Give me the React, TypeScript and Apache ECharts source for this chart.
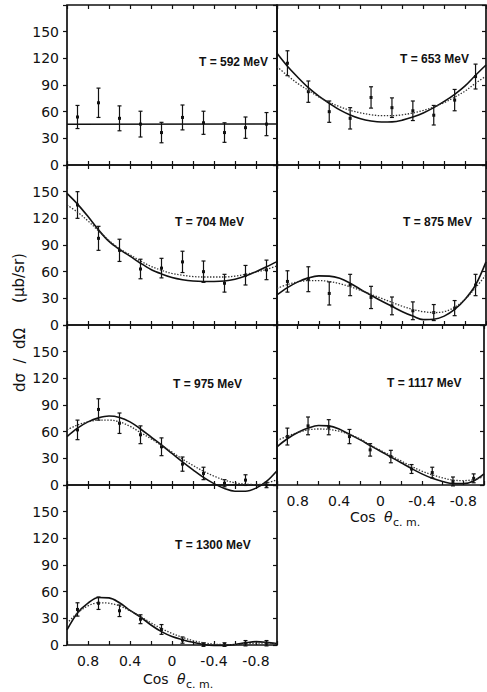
import React, { useEffect, useRef } from "react";
import * as echarts from "echarts";

// ---------- data ----------
const COS_POINTS = [0.9, 0.7, 0.5, 0.3, 0.1, -0.1, -0.3, -0.5, -0.7, -0.9];
const COS_CURVE = [1, 0.9, 0.8, 0.7, 0.6, 0.5, 0.4, 0.3, 0.2, 0.1, 0, -0.1, -0.2, -0.3, -0.4, -0.5, -0.6, -0.7, -0.8, -0.9, -1];
const COS_FLAT = [1, -1];

const X_TICK_VALUES = [0.8, 0.4, 0, -0.4, -0.8];
const X_TICK_LABELS = ["0.8", "0.4", "0", "-0.4", "-0.8"];
const Y_TICK_LABELS = ["0", "30", "60", "90", "120", "150"];

const TITLES = ["T = 592 MeV", "T = 653 MeV", "T = 704 MeV", "T = 875 MeV", "T = 975 MeV", "T = 1117 MeV", "T = 1300 MeV"];

// T = 592 MeV
const Y_592 = [54, 70, 52.5, 46, 36.5, 53.5, 47.5, 36.5, 42, 46];
const ERR_592 = [13, 16.5, 14, 14.5, 11.5, 14, 13, 11, 12, 13];
const SOLID_592 = [45.8, 46.2];

// T = 653 MeV
const Y_653 = [114.5, 82.5, 60, 52.5, 76, 64.5, 61, 56, 73, 99.5];
const ERR_653 = [14, 12, 12, 12, 12, 11, 11, 11, 12, 14];
const SOLID_653 = [125.6, 111, 98.5, 87, 77.5, 69.5, 62, 56.3, 52, 49.5, 48.3, 48.5, 50.5, 54, 58.5, 64.5, 71.5, 79.5, 89, 101, 112.5];
const DOTTED_653 = [110.6, 100.6, 91.6, 84, 76.6, 70.6, 65.6, 61.5, 58.6, 56.5, 55.5, 55.5, 56.5, 58.5, 61.4, 65.3, 70.2, 76.3, 83.2, 92, 100];

// T = 704 MeV
const Y_704 = [135, 97.5, 84, 63, 64, 71, 60, 47, 56, 62];
const ERR_704 = [15, 13.5, 12.5, 11, 11, 12, 12, 10, 11, 11];
const SOLID_704 = [148, 136, 122, 107, 94, 85, 77.5, 69.5, 62.5, 57.5, 53.5, 51, 49.5, 49, 49, 49.5, 51.5, 55, 60, 65.5, 71.3];
const DOTTED_704 = [135, 127, 117, 106, 95, 86, 79, 72, 66, 61.5, 58, 56, 54.5, 54, 54, 54, 55, 57, 59.5, 62.5, 66.4];

// T = 875 MeV
const Y_875 = [49, 51.5, 35.5, 45, 31, 21.5, 16, 14, 19, 45];
const ERR_875 = [12, 14, 13, 12, 12.5, 10, 10, 9, 8.5, 12];
const SOLID_875 = [33.8, 42, 48.5, 53, 55.3, 55, 52.5, 47, 40, 33.5, 27, 21, 15, 10, 6, 6.5, 10, 17.5, 29, 45, 71];
const DOTTED_875 = [41.3, 45.5, 48.5, 50, 50, 49, 46.5, 43, 39, 34.5, 30, 25.5, 21, 17.5, 15, 14, 15, 20, 29, 42, 56.3];

// T = 975 MeV
const Y_975 = [62, 85, 69.5, 56.5, 43, 23.5, 13, 2, 5.5, 0];
const ERR_975 = [11, 12, 11.5, 10, 10, 8, 7, 4, 6, 3];
const SOLID_975 = [54.4, 64, 71, 75.5, 77.6, 76, 71, 63, 54, 45, 35.5, 26, 17, 8.5, 1.5, -4, -7, -7, -3.5, 4, 16];
const DOTTED_975 = [62, 67.5, 71, 73, 73, 71, 66, 59, 52, 44.5, 37, 29, 22, 15.5, 10, 5.5, 2.5, 1, 0.5, 2, 6];

// T = 1117 MeV
const Y_1117 = [54.5, 66.5, 65, 54.5, 39.5, 32, 18, 14, 4, 7.5];
const ERR_1117 = [9.5, 10, 8.5, 8, 7, 7, 5, 6, 5, 5];
const SOLID_1117 = [43, 52, 59, 64, 67, 66.5, 63, 57, 51, 44.5, 38, 31.5, 25, 18.5, 12.5, 7.5, 4, 1.5, 1.5, 4.5, 12.4];
const DOTTED_1117 = [50, 55, 59, 62, 63, 62.5, 60.5, 57, 52, 45, 39, 33, 27, 21, 15.5, 11.5, 8, 5.5, 5, 6, 9.4];

// T = 1300 MeV
const Y_1300 = [40, 47, 38.5, 29, 17.5, 5.5, 0.5, 0.5, 2, 2];
const ERR_1300 = [7.5, 7, 6.5, 5, 5.5, 3.5, 2, 2, 3, 3];
const SOLID_1300 = [17, 36, 47, 53.5, 53, 47.5, 39, 31.5, 22.5, 15, 9.5, 6, 3, 0.5, -0.5, -0.5, 0.5, 2.5, 3.8, 3, 1.5];
const DOTTED_1300 = [24.4, 36, 44, 47.5, 47, 44, 38.5, 32, 25, 18.5, 13, 8.5, 5, 2.5, 1, 0.5, 0.5, 1, 2, 2, 1.5];

const PANELS = [
  { title: TITLES[0], y: Y_592, err: ERR_592, solidX: COS_FLAT, solid: SOLID_592, dotted: null },
  { title: TITLES[1], y: Y_653, err: ERR_653, solidX: COS_CURVE, solid: SOLID_653, dotted: DOTTED_653 },
  { title: TITLES[2], y: Y_704, err: ERR_704, solidX: COS_CURVE, solid: SOLID_704, dotted: DOTTED_704 },
  { title: TITLES[3], y: Y_875, err: ERR_875, solidX: COS_CURVE, solid: SOLID_875, dotted: DOTTED_875 },
  { title: TITLES[4], y: Y_975, err: ERR_975, solidX: COS_CURVE, solid: SOLID_975, dotted: DOTTED_975 },
  { title: TITLES[5], y: Y_1117, err: ERR_1117, solidX: COS_CURVE, solid: SOLID_1117, dotted: DOTTED_1117 },
  { title: TITLES[6], y: Y_1300, err: ERR_1300, solidX: COS_CURVE, solid: SOLID_1300, dotted: DOTTED_1300 },
];

// ---------- layout ----------
const LAYOUT = [
  { row: 0, col: 0, tx: 199, ty: 62, xLabels: false },
  { row: 0, col: 1, tx: 400, ty: 59, xLabels: false },
  { row: 1, col: 0, tx: 175, ty: 222, xLabels: false },
  { row: 1, col: 1, tx: 403, ty: 222, xLabels: false },
  { row: 2, col: 0, tx: 173, ty: 384, xLabels: false },
  { row: 2, col: 1, tx: 387, ty: 383, xLabels: true },
  { row: 3, col: 0, tx: 175, ty: 545, xLabels: true },
];

const INK = "#111";
const FONT = "DejaVu Sans";

function xFormatter(v: number) {
  const r = Math.round(v * 10) / 10;
  const k = X_TICK_VALUES.findIndex((t) => Math.abs(t - r) < 1e-6);
  return k >= 0 ? X_TICK_LABELS[k] : "";
}

function yFormatter(v: number) {
  const s = String(Math.round(v));
  return Y_TICK_LABELS.includes(s) ? s : "";
}

function errorBarRender(params: any, api: any) {
  const x = api.value(0);
  const y = api.value(1);
  const lo = api.value(2);
  const hi = api.value(3);
  const c = api.coord([x, y]);
  const a = api.coord([x, lo]);
  const b = api.coord([x, hi]);
  const st = { stroke: INK, lineWidth: 1.2 };
  return {
    type: "group",
    children: [
      { type: "line", shape: { x1: c[0], y1: a[1], x2: c[0], y2: b[1] }, style: st },
      { type: "line", shape: { x1: c[0] - 2, y1: a[1], x2: c[0] + 2, y2: a[1] }, style: st },
      { type: "line", shape: { x1: c[0] - 2, y1: b[1], x2: c[0] + 2, y2: b[1] }, style: st },
      { type: "rect", shape: { x: c[0] - 1.5, y: c[1] - 1.5, width: 3, height: 3 }, style: { fill: INK } },
    ],
  };
}

function buildOption() {
  const grids: any[] = [];
  const xAxes: any[] = [];
  const yAxes: any[] = [];
  const series: any[] = [];
  const graphics: any[] = [];

  PANELS.forEach((p, i) => {
    const L = LAYOUT[i];
    const left = L.col === 0 ? 67 : 277;
    const width = L.col === 0 ? 210 : 209;
    const top = 5 + L.row * 160;
    grids.push({ left, top, width, height: 160, show: true, borderColor: INK, borderWidth: 1.7, backgroundColor: "transparent" });

    const tickStyle = { color: INK, width: 1.2 };
    const xBase = {
      gridIndex: i, type: "value", min: -1, max: 1, interval: 0.2, inverse: true,
      axisLine: { show: false, onZero: false }, splitLine: { show: false },
      axisTick: { show: true, inside: true, length: 4, lineStyle: tickStyle },
    };
    xAxes.push({
      ...xBase, position: "bottom",
      axisLabel: { show: L.xLabels, formatter: xFormatter, margin: 9, fontSize: 14, color: INK, fontFamily: FONT },
    });
    xAxes.push({ ...xBase, position: "top", axisLabel: { show: false } });

    const yBase = {
      gridIndex: i, type: "value", min: 0, max: 180, interval: 30,
      axisLine: { show: false, onZero: false }, splitLine: { show: false },
    };
    yAxes.push({
      ...yBase, position: "left",
      axisTick: { show: L.col === 0, inside: false, length: 4, lineStyle: tickStyle },
      axisLabel: { show: L.col === 0, formatter: yFormatter, margin: 8, fontSize: 14, color: INK, fontFamily: FONT },
    });
    yAxes.push({
      ...yBase, position: "right",
      axisTick: { show: true, inside: true, length: 4, lineStyle: tickStyle },
      axisLabel: { show: false },
    });

    series.push({
      type: "custom", xAxisIndex: 2 * i, yAxisIndex: 2 * i, clip: false,
      renderItem: errorBarRender, encode: { x: 0, y: 1 },
      data: p.y.map((v, k) => [COS_POINTS[k], v, v - p.err[k], v + p.err[k]]),
      z: 3,
    });
    series.push({
      type: "line", xAxisIndex: 2 * i, yAxisIndex: 2 * i, clip: false,
      showSymbol: false, smooth: 0.35,
      lineStyle: { color: INK, width: 1.6, type: "solid" },
      data: p.solid.map((v, k) => [p.solidX[k], v]),
      z: 4,
    });
    if (p.dotted) {
      series.push({
        type: "line", xAxisIndex: 2 * i, yAxisIndex: 2 * i, clip: false,
        showSymbol: false, smooth: 0.35,
        lineStyle: { color: "#333", width: 1.3, type: [1.4, 1.6] },
        data: p.dotted.map((v, k) => [COS_CURVE[k], v]),
        z: 4,
      });
    }

    graphics.push({
      type: "text", x: L.tx, y: L.ty,
      style: { text: p.title, fill: INK, fontSize: 12, fontWeight: "bold", fontFamily: "Liberation Sans", align: "left", verticalAlign: "middle" },
    });
  });

  // axis titles
  const axisTitle = (x: number, y: number) => [
    { type: "text", x, y, style: { text: "Cos", fill: INK, fontSize: 14, fontFamily: FONT, align: "left", verticalAlign: "middle" } },
    { type: "text", x: x + 34, y, style: { text: "θ", fill: INK, fontSize: 14, fontStyle: "italic", fontFamily: FONT, align: "left", verticalAlign: "middle" } },
    { type: "text", x: x + 43, y: y + 5, style: { text: "c. m.", fill: INK, fontSize: 11, fontFamily: FONT, align: "left", verticalAlign: "middle" } },
  ];
  graphics.push(...axisTitle(143, 679));
  graphics.push(...axisTitle(350, 517));

  graphics.push({
    type: "text", x: 19, y: 278, rotation: Math.PI / 2,
    style: { text: "(μb/sr)", fill: INK, fontSize: 15, fontFamily: FONT, align: "center", verticalAlign: "middle" },
  });
  graphics.push({
    type: "text", x: 20, y: 360, rotation: Math.PI / 2,
    style: { text: "dσ  /  dΩ", fill: INK, fontSize: 15, fontFamily: FONT, align: "center", verticalAlign: "middle" },
  });

  return {
    animation: false,
    backgroundColor: "#fff",
    grid: grids,
    xAxis: xAxes,
    yAxis: yAxes,
    series,
    graphic: graphics,
  };
}

export default function App() {
  const ref = useRef<HTMLDivElement>(null);
  useEffect(() => {
    if (!ref.current) return;
    const chart = echarts.init(ref.current, undefined, { renderer: "svg" });
    chart.setOption(buildOption() as any);
    return () => chart.dispose();
  }, []);
  return (
    <div
      ref={ref}
      style={{ position: "absolute", left: 0, top: 0, width: 487, height: 692, background: "#fff" }}
    />
  );
}
